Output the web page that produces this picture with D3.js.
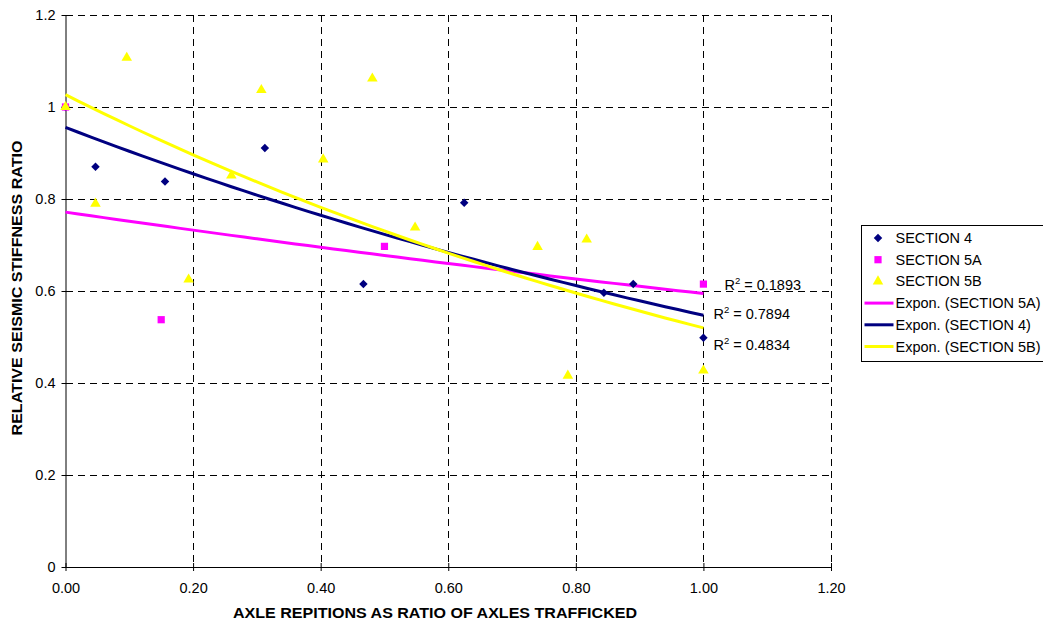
<!DOCTYPE html>
<html>
<head>
<meta charset="utf-8">
<script src="https://cdn.jsdelivr.net/npm/d3@7"></script>
<style>
  html, body { margin: 0; padding: 0; background: #fff; overflow: hidden; }
  svg { display: block; font-family: Arial, "Liberation Sans", sans-serif; }
</style>
</head>
<body>
<svg id="chart" width="1043" height="624"></svg>
<script>
// Relative seismic stiffness vs axle repetitions
const section4X = [0, 0.047, 0.156, 0.3125, 0.467, 0.625, 0.844, 0.89, 1.0];
const section4Y = [1.0, 0.87, 0.838, 0.911, 0.615, 0.792, 0.596, 0.615, 0.4985];

const section5AX = [0, 0.15, 0.5, 1.0];
const section5AY = [1.0, 0.5376, 0.697, 0.615];

const section5BX = [0, 0.047, 0.096, 0.193, 0.26, 0.307, 0.404, 0.481, 0.548, 0.74, 0.7875, 0.817, 1.0];
const section5BY = [1.0, 0.79, 1.107, 0.625, 0.851, 1.037, 0.886, 1.062, 0.738, 0.696, 0.416, 0.712, 0.427];

const xTicks = [0, 0.2, 0.4, 0.6, 0.8, 1.0, 1.2];
const yTicks = [0, 0.2, 0.4, 0.6, 0.8, 1.0, 1.2];
const seriesNames = ["SECTION 4", "SECTION 5A", "SECTION 5B"];
const trendNames = ["Expon. (SECTION 5A)", "Expon. (SECTION 4)", "Expon. (SECTION 5B)"];
const rSquaredLabels = ["0.1893", "0.7894", "0.4834"]; // 5A, 4, 5B

const svg = d3.select("#chart");
const x = d3.scaleLinear().domain([0, 1.2]).range([65.5, 831]);
const y = d3.scaleLinear().domain([0, 1.2]).range([567, 15]);

const colors = { s4: "#000080", s5a: "#FF00FF", s5b: "#FFFF00" };

// Gridlines (dashed)
const grid = svg.append("g").attr("stroke", "#000").attr("stroke-width", 1)
  .attr("stroke-dasharray", "7,5").attr("shape-rendering", "crispEdges");
grid.selectAll("line.h").data(yTicks.filter(d => d > 0)).join("line")
  .attr("x1", x(0)).attr("x2", x(1.2))
  .attr("y1", d => Math.round(y(d)) + 0.5).attr("y2", d => Math.round(y(d)) + 0.5);
grid.selectAll("line.v").data(xTicks.filter(d => d > 0)).join("line")
  .attr("y1", y(1.2)).attr("y2", y(0))
  .attr("x1", d => Math.round(x(d)) + 0.5).attr("x2", d => Math.round(x(d)) + 0.5);

// Axes
const xAxis = d3.axisBottom(x).tickValues(xTicks).tickFormat(d3.format(".2f"))
  .tickSizeInner(5).tickSizeOuter(0).tickPadding(11);
const yAxis = d3.axisLeft(y).tickValues(yTicks).tickFormat(d => d === 0 ? "0" : d3.format("")(+d.toFixed(1)))
  .tickSizeInner(5).tickSizeOuter(0).tickPadding(5);

const gx = svg.append("g").attr("transform", `translate(0,${y(0)})`).call(xAxis);
const gy = svg.append("g").attr("transform", `translate(${x(0)},0)`).call(yAxis);
[gx, gy].forEach(g => {
  g.select(".domain").attr("stroke", "#000");
  g.selectAll(".tick line").attr("stroke", "#000");
  g.selectAll("text").attr("font-size", "14.5px").attr("fill", "#000")
    .attr("font-family", "Arial, 'Liberation Sans', sans-serif");
});
// cross-style tick marks
gx.selectAll(".tick line").attr("y1", -4).attr("y2", 4);
gy.selectAll(".tick line").attr("x1", -4).attr("x2", 6);

// Axis titles
svg.append("text").attr("x", 435).attr("y", 618).attr("text-anchor", "middle")
  .attr("font-weight", "bold").attr("font-size", "14px")
  .attr("textLength", 404).attr("lengthAdjust", "spacingAndGlyphs")
  .text("AXLE REPITIONS AS RATIO OF AXLES TRAFFICKED");
svg.append("text").attr("transform", "translate(22,288) rotate(-90)").attr("text-anchor", "middle")
  .attr("font-weight", "bold").attr("font-size", "14px")
  .attr("textLength", 295).attr("lengthAdjust", "spacingAndGlyphs")
  .text("RELATIVE SEISMIC STIFFNESS RATIO");

// Exponential least-squares fit (ln y on x)
function expFit(xs, ys) {
  const ly = ys.map(Math.log);
  const mx = d3.mean(xs), my = d3.mean(ly);
  let sxy = 0, sxx = 0;
  xs.forEach((v, i) => { sxy += (v - mx) * (ly[i] - my); sxx += (v - mx) * (v - mx); });
  const b = sxy / sxx;
  const a = Math.exp(my - b * mx);
  return v => a * Math.exp(b * v);
}

const trends = [
  { key: "s5a", f: expFit(section5AX, section5AY), xs: section5AX },
  { key: "s4", f: expFit(section4X, section4Y), xs: section4X },
  { key: "s5b", f: expFit(section5BX, section5BY), xs: section5BX }
];
const line = d3.line().x(d => x(d[0])).y(d => y(d[1]));
trends.forEach(t => {
  const x0 = d3.min(t.xs), x1 = d3.max(t.xs);
  const pts = d3.range(0, 51).map(i => { const v = x0 + (x1 - x0) * i / 50; return [v, t.f(v)]; });
  svg.append("path").attr("d", line(pts)).attr("fill", "none")
    .attr("stroke", colors[t.key]).attr("stroke-width", 3);
});

// Markers
const diamond = d3.symbol().type(d3.symbolDiamond2).size(46);
const square = d3.symbol().type(d3.symbolSquare).size(52);
const triangle = d3.symbol().type(d3.symbolTriangle).size(48);

svg.append("g").selectAll("path").data(d3.zip(section4X, section4Y)).join("path")
  .attr("d", diamond).attr("fill", colors.s4)
  .attr("transform", d => `translate(${x(d[0])},${y(d[1])})`);
svg.append("g").selectAll("path").data(d3.zip(section5AX, section5AY)).join("path")
  .attr("d", square).attr("fill", colors.s5a)
  .attr("transform", d => `translate(${x(d[0])},${y(d[1])})`);
svg.append("g").selectAll("path").data(d3.zip(section5BX, section5BY)).join("path")
  .attr("d", triangle).attr("fill", colors.s5b)
  .attr("transform", d => `translate(${x(d[0])},${y(d[1])})`);

// R² labels near each trend line end
const r2Offsets = [[21, -4], [10, 4], [10, 22]];
trends.forEach((t, i) => {
  const endX = d3.max(t.xs);
  const tx = svg.append("text").attr("x", x(endX) + r2Offsets[i][0])
    .attr("y", y(t.f(endX)) + r2Offsets[i][1]).attr("font-size", "14.5px");
  tx.append("tspan").text("R");
  tx.append("tspan").attr("font-size", "9.5px").attr("dy", -6).text("2");
  tx.append("tspan").attr("dy", 6).text(" = " + rSquaredLabels[i]);
});

// Legend
const legend = svg.append("g").attr("transform", "translate(861.5,225.5)");
legend.append("rect").attr("width", 220).attr("height", 136)
  .attr("fill", "#fff").attr("stroke", "#000").attr("stroke-width", 1);
const rowY = i => 12.5 + i * 21.7;
const markerSyms = [diamond, square, triangle];
const markerKeys = ["s4", "s5a", "s5b"];
seriesNames.forEach((name, i) => {
  legend.append("path").attr("d", markerSyms[i]).attr("fill", colors[markerKeys[i]])
    .attr("transform", `translate(16.5,${rowY(i)})`);
  legend.append("text").attr("x", 34).attr("y", rowY(i) + 5).attr("font-size", "14.5px").text(name);
});
const trendKeys = ["s5a", "s4", "s5b"];
trendNames.forEach((name, j) => {
  const i = j + 3;
  legend.append("line").attr("x1", 3).attr("x2", 32).attr("y1", rowY(i)).attr("y2", rowY(i))
    .attr("stroke", colors[trendKeys[j]]).attr("stroke-width", 3);
  legend.append("text").attr("x", 34).attr("y", rowY(i) + 5).attr("font-size", "14.5px").text(name);
});
</script>
</body>
</html>
